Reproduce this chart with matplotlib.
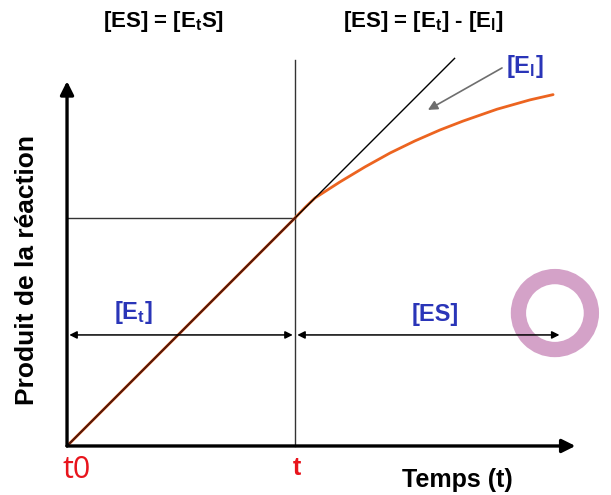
import matplotlib
matplotlib.use("Agg")
import matplotlib.pyplot as plt
from matplotlib.patches import Circle

plt.rcParams['font.family'] = ['Liberation Sans', 'DejaVu Sans']
plt.rcParams['mathtext.fontset'] = 'custom'
plt.rcParams['mathtext.rm'] = 'Liberation Sans:bold'
plt.rcParams['mathtext.it'] = 'Liberation Sans:bold'
plt.rcParams['mathtext.bf'] = 'Liberation Sans:bold'

# temps (unites arbitraires, t = 1) et produit forme
t_mark = 1.0
p_mark = 1.0
t_initial = [0.0, 1.70]
p_initial = [0.0, 1.70]
t_courbe = [0.0, 1.0, 1.044, 1.088, 1.197, 1.307, 1.417, 1.526, 1.636, 1.737, 1.886, 2.031, 2.132]
p_courbe = [0.0, 1.0, 1.046, 1.088, 1.158, 1.224, 1.285, 1.338, 1.386, 1.425, 1.477, 1.518, 1.541]

BLUE = '#2a35b8'
RED = '#e8141c'
ORANGE = '#ec6420'

fig = plt.figure(figsize=(6.11, 4.95), dpi=100)
ax = fig.add_axes([0, 0, 1, 1])
ax.set_xlim(-0.294, 2.386)
ax.set_ylim(-0.215, 1.956)
ax.axis('off')

# axes avec fleches
ax.annotate('', xy=(2.23, 0), xytext=(0, 0),
            arrowprops=dict(arrowstyle='-|>', lw=2.4, color='black', mutation_scale=20,
                            shrinkA=0, shrinkB=0))
ax.annotate('', xy=(0, 1.60), xytext=(0, 0),
            arrowprops=dict(arrowstyle='-|>', lw=2.4, color='black', mutation_scale=20,
                            shrinkA=0, shrinkB=0))

# repere t
ax.plot([t_mark, t_mark], [0, 1.693], color='#333333', lw=1.0)
ax.plot([0, t_mark], [p_mark, p_mark], color='#333333', lw=1.0)

# courbes
ax.plot(t_courbe, p_courbe, color=ORANGE, lw=2.0, solid_capstyle='round',
        solid_joinstyle='round')
ax.plot(t_initial, p_initial, color='black', lw=1.0)
ax.plot(t_courbe[:2], p_courbe[:2], color='#5a1a0a', lw=1.3)

# doubles fleches
ya = 0.487
for x0, x1 in [(0.01, t_mark - 0.01), (t_mark + 0.01, 2.16)]:
    ax.annotate('', xy=(x1, ya), xytext=(x0, ya),
                arrowprops=dict(arrowstyle='<|-|>', lw=1.1, color='black', mutation_scale=11,
                                shrinkA=0, shrinkB=0))

ax.text(0.29, ya + 0.04, r'[E$_\mathrm{t}$]', color=BLUE, fontsize=17, fontweight='bold',
        ha='center', va='bottom')
ax.text(1.615, ya + 0.04, '[ES]', color=BLUE, fontsize=17, fontweight='bold',
        ha='center', va='bottom')

# fleche grise vers l'ecart
ax.annotate('', xy=(1.583, 1.474), xytext=(1.908, 1.658),
            arrowprops=dict(arrowstyle='-|>', lw=1.2, color='#6e6e6e', mutation_scale=14,
                            shrinkA=0, shrinkB=0))
ax.text(2.01, 1.665, r'[E$_\mathrm{l}$]', color=BLUE, fontsize=17, fontweight='bold',
        ha='center', va='center')

# titres
ax.text(0.425, 1.860, r'[ES] = [E$_\mathrm{t}$S]', fontsize=16, fontweight='bold',
        ha='center', va='center')
ax.text(1.561, 1.860, r'[ES] = [E$_\mathrm{t}$] - [E$_\mathrm{l}$]', fontsize=16,
        fontweight='bold', ha='center', va='center')

# libelles des axes
ax.text(-0.176, 0.77, 'Produit de la réaction', fontsize=19, fontweight='bold',
        rotation=90, ha='center', va='center')
ax.text(1.71, -0.149, 'Temps (t)', fontsize=18, fontweight='bold', ha='center', va='center')
ax.text(0.04, -0.105, 't0', color=RED, fontsize=22, ha='center', va='center',
        family=['Open Sans', 'DejaVu Sans'])
ax.text(t_mark + 0.01, -0.095, 't', color=RED, fontsize=18, fontweight='bold',
        ha='center', va='center')

# cercle rose
ax.add_patch(Circle((2.140, 0.583), 0.160, fill=False, edgecolor='#d4a2c8', lw=11))

fig.savefig('out.png', dpi=100)
